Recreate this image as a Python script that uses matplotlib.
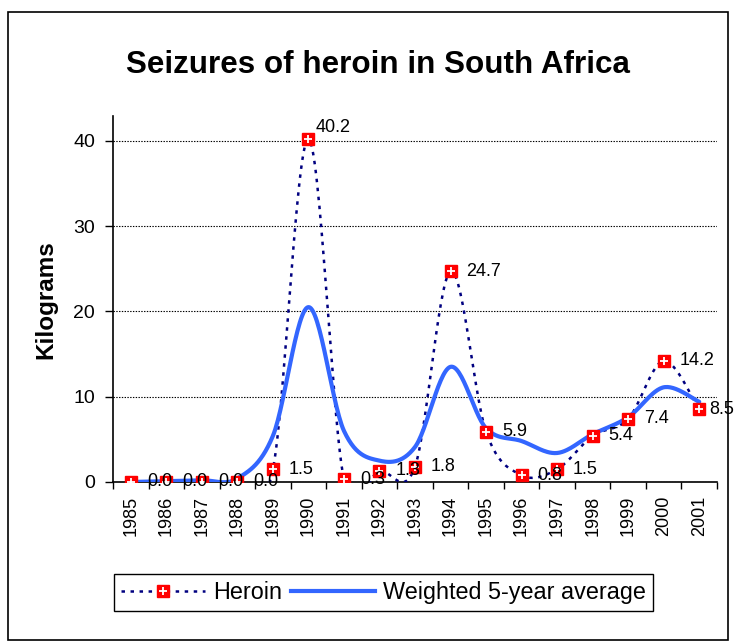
import numpy as np
import matplotlib.pyplot as plt
from matplotlib.lines import Line2D
from matplotlib.legend_handler import HandlerTuple
from matplotlib.patches import Rectangle

plt.rcParams['font.family'] = ['Liberation Sans', 'DejaVu Sans']
plt.rcParams['lines.scale_dashes'] = False

# data
years = [str(y) for y in range(1985, 2002)]
heroin = [0.0, 0.0, 0.0, 0.0, 1.5, 40.2, 0.3, 1.3, 1.8, 24.7, 5.9, 0.8, 1.5, 5.4, 7.4, 14.2, 8.5]
weighted_avg = [0.0, 0.1, 0.2, 0.4, 5.4, 20.5, 6.0, 2.5, 4.1, 13.5, 6.3, 4.8, 3.4, 5.6, 7.6, 11.1, 9.4]


def smooth(x, y, steps=30):
    """Excel-style smoothed line (Catmull-Rom bezier through the points)."""
    p = np.column_stack([x, y]).astype(float)
    p = np.vstack([p[:1], p, p[-1:]])
    t = np.linspace(0, 1, steps)[:, None]
    out = []
    for i in range(1, len(p) - 2):
        b0 = p[i]
        b1 = p[i] + (p[i + 1] - p[i - 1]) / 6
        b2 = p[i + 1] - (p[i + 2] - p[i]) / 6
        b3 = p[i + 1]
        seg = ((1 - t) ** 3) * b0 + 3 * ((1 - t) ** 2) * t * b1 + 3 * (1 - t) * t ** 2 * b2 + t ** 3 * b3
        out.append(seg if i == 1 else seg[1:])
    out = np.vstack(out)
    return out[:, 0], out[:, 1]


fig = plt.figure(figsize=(7.36, 6.42), dpi=100)
ax = fig.add_axes([113 / 736, 1 - 482 / 642, (717 - 113) / 736, (482 - 116) / 642])

x = np.arange(len(years))
navy = '#000080'
blue = '#3366FF'
dots = (0, (2.5, 4))

hx, hy = smooth(x, heroin)
ax.plot(hx, hy, color=navy, lw=1.8, linestyle=dots, zorder=3)
wx, wy = smooth(x, weighted_avg)
ax.plot(wx, wy, color=blue, lw=3, solid_capstyle='round', zorder=4)
ax.plot(x, heroin, linestyle='none', marker='s', ms=8.2, mfc='#FF0000', mec='#FF0000', zorder=5)
ax.plot(x, heroin, linestyle='none', marker='+', ms=5.5, mew=1.3, color='white', zorder=6)

for i, v in enumerate(heroin):
    off = (16, 0)
    if v == 40.2:
        off = (7, 12)
    elif i == len(heroin) - 1:
        off = (10, 0)
    ax.annotate(f'{v:.1f}', (x[i], v), xytext=off, textcoords='offset pixels',
                ha='left', va='center', fontsize=13, zorder=7, annotation_clip=False)

ax.set_xlim(-0.5, 16.5)
ax.set_ylim(0, 42.9)
ax.set_yticks([0, 10, 20, 30, 40])
ax.set_xticks(x)
ax.set_xticklabels(years, rotation=90, fontsize=13)
ax.set_xticks(np.arange(-0.5, 17, 1), minor=True)
ax.tick_params(axis='x', which='major', length=0, pad=10)
ax.tick_params(axis='x', which='minor', length=5, width=1, direction='out')
ax.tick_params(axis='y', length=6, width=1, direction='out', labelsize=14, pad=7)
ax.yaxis.grid(True, color='black', lw=0.8, linestyle=(0, (1, 1)))
ax.set_axisbelow(True)
for s in ['top', 'right']:
    ax.spines[s].set_visible(False)
for s in ['left', 'bottom']:
    ax.spines[s].set_linewidth(1.2)

fig.text(378 / 736, 1 - 65 / 642, 'Seizures of heroin in South Africa', ha='center', va='center',
         fontsize=22.6, fontweight='bold')
fig.text(46 / 736, 1 - 300 / 642, 'Kilograms', rotation=90, ha='center', va='center',
         fontsize=17.5, fontweight='bold')

h_line = Line2D([], [], color=navy, lw=1.8, linestyle=dots)
h_sq = Line2D([], [], linestyle='none', marker='s', ms=8.2, mfc='#FF0000', mec='#FF0000')
h_plus = Line2D([], [], linestyle='none', marker='+', ms=5.5, mew=1.3, color='white')
w_line = Line2D([], [], color=blue, lw=3)
leg = fig.legend([(h_line, h_sq, h_plus), w_line], ['Heroin', 'Weighted 5-year average'],
                 handler_map={tuple: HandlerTuple(ndivide=1)},
                 loc='center', bbox_to_anchor=(383.5 / 736, 1 - 592.5 / 642), ncol=2,
                 fontsize=16.8, handlelength=3.6, handletextpad=0.35, columnspacing=0.35,
                 fancybox=False, edgecolor='black', framealpha=1, borderpad=0.3)
leg.get_frame().set_linewidth(1.0)

fig.patches.append(Rectangle((8 / 736, 2 / 642), 720 / 736, 628 / 642, transform=fig.transFigure,
                             fill=False, edgecolor='black', lw=1.2))

fig.savefig('out.png', dpi=100)
